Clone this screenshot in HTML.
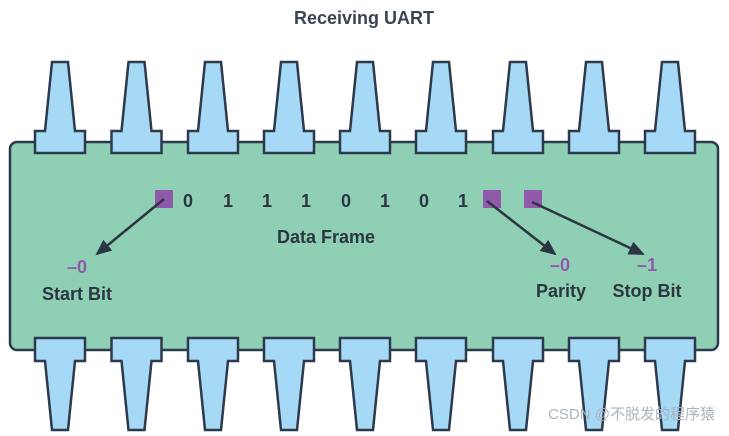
<!DOCTYPE html>
<html><head><meta charset="utf-8"><style>
html,body{margin:0;padding:0;background:#fff;}
svg{display:block;}
text{font-family:"Liberation Sans","Noto Sans CJK SC",sans-serif;font-weight:bold;}
</style></head><body>
<svg width="729" height="436" viewBox="0 0 729 436" xmlns="http://www.w3.org/2000/svg">
<defs>
<marker id="ah" markerWidth="16" markerHeight="14" refX="14" refY="7" orient="auto" markerUnits="userSpaceOnUse">
<path d="M0,0 L16,7 L0,14 z" fill="#2c3542"/>
</marker>
<g id="tp"><path d="M-8,62 L8,62 L15,131 L25,131 L25,153 L-25,153 L-25,131 L-15,131 Z" fill="#a6d9f5" stroke="#2c3a4c" stroke-width="2.5" stroke-linejoin="miter"/></g>
<g id="bp"><path d="M-8,430 L8,430 L15,361 L25,361 L25,338 L-25,338 L-25,361 L-15,361 Z" fill="#a6d9f5" stroke="#2c3a4c" stroke-width="2.5"/></g>
</defs>
<text x="364" y="24" text-anchor="middle" font-size="18" fill="#3a4452">Receiving UART</text>
<rect x="10" y="142" width="708" height="208" rx="7" fill="#8fd0b5" stroke="#2c3a4c" stroke-width="2.5"/>
<g>
<use href="#tp" x="60"/><use href="#tp" x="136.5"/><use href="#tp" x="213"/><use href="#tp" x="289"/><use href="#tp" x="365"/><use href="#tp" x="441"/><use href="#tp" x="518"/><use href="#tp" x="594"/><use href="#tp" x="670"/>
<use href="#bp" x="60"/><use href="#bp" x="136.5"/><use href="#bp" x="213"/><use href="#bp" x="289"/><use href="#bp" x="365"/><use href="#bp" x="441"/><use href="#bp" x="518"/><use href="#bp" x="594"/><use href="#bp" x="670"/>
</g>
<rect x="155" y="190" width="18" height="18" fill="#9159ab"/>
<rect x="483" y="190" width="18" height="18" fill="#9159ab"/>
<rect x="524" y="190" width="18" height="18" fill="#9159ab"/>
<g font-size="18" fill="#2c3542" text-anchor="middle">
<text x="188" y="207">0</text><text x="228" y="207">1</text><text x="267" y="207">1</text><text x="306" y="207">1</text><text x="346" y="207">0</text><text x="385" y="207">1</text><text x="424" y="207">0</text><text x="463" y="207">1</text>
</g>
<g stroke="#2c3542" stroke-width="2.5" fill="none" marker-end="url(#ah)">
<line x1="164" y1="199" x2="97" y2="254"/>
<line x1="487" y1="201" x2="555" y2="254"/>
<line x1="532" y1="202" x2="643" y2="254"/>
</g>
<text x="326" y="243" text-anchor="middle" font-size="18" fill="#2c3542">Data Frame</text>
<g font-size="18" fill="#9159ab" text-anchor="middle">
<text x="77" y="273">–0</text><text x="560" y="271">–0</text><text x="647" y="271">–1</text>
</g>
<g font-size="18" fill="#2c3542" text-anchor="middle">
<text x="77" y="300">Start Bit</text><text x="561" y="297">Parity</text><text x="647" y="297">Stop Bit</text>
</g>
<text x="715" y="419" text-anchor="end" font-size="15" fill="#aab3bc" style="font-weight:normal">CSDN @不脱发的程序猿</text>
</svg>
</body></html>
